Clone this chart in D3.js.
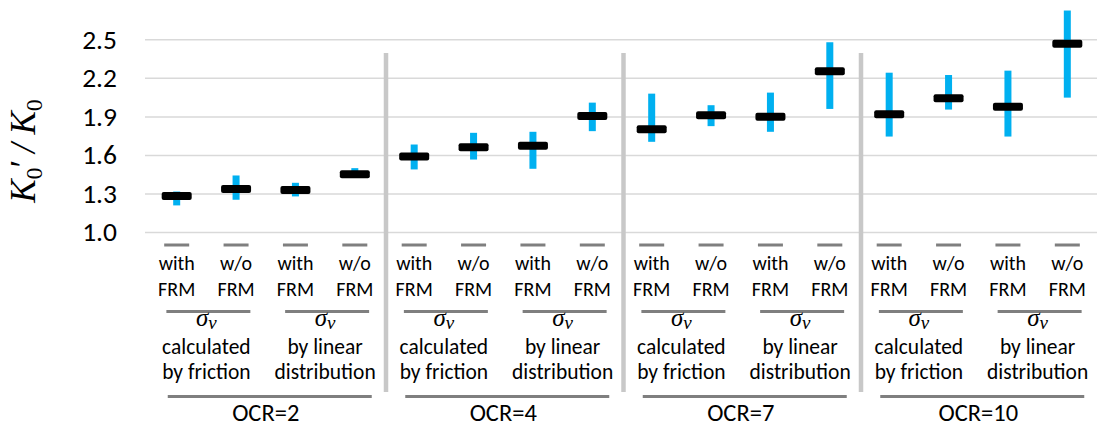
<!DOCTYPE html>
<html>
<head>
<meta charset="utf-8">
<script src="https://cdn.jsdelivr.net/npm/d3@7"></script>
<style>
    body { margin: 0; background: #fff; }
    svg text { font-family: Calibri, Carlito, Lato, sans-serif; fill: #000; }
    .serif { font-family: 'Liberation Serif', 'DejaVu Serif', serif !important; }
</style>
</head>
<body>
<div id="chart"></div>
<script>
// groups / sub-groups / bars
const ocrLabels = ['OCR=2', 'OCR=4', 'OCR=7', 'OCR=10'];
const methodLabels = [['calculated', 'by friction'], ['by linear', 'distribution']];
const frmLabels = [['with', 'FRM'], ['w/o', 'FRM']];
const yTicks = [1.0, 1.3, 1.6, 1.9, 2.2, 2.5];

// K0'/K0 mean and range, one per bar (OCR -> method -> FRM)
const meanValues = [1.280, 1.335, 1.327, 1.449, 1.588, 1.659, 1.671, 1.902, 1.799, 1.909, 1.898, 2.251, 1.916, 2.041, 1.975, 2.466];
const lowValues  = [1.207, 1.251, 1.277, 1.440, 1.487, 1.564, 1.492, 1.785, 1.702, 1.824, 1.780, 1.958, 1.743, 1.953, 1.743, 2.046];
const highValues = [1.315, 1.440, 1.383, 1.497, 1.681, 1.772, 1.780, 2.007, 2.077, 1.987, 2.085, 2.477, 2.240, 2.222, 2.256, 2.724];

class RangeChart {
    constructor(_config, _data) {
        this.config = {
            parentElement: _config.parentElement,
            containerWidth: _config.containerWidth || 1097,
            containerHeight: _config.containerHeight || 428,
            margin: _config.margin || { top: 39.3, right: 0, bottom: 196, left: 147 }
        };
        this.data = _data;
        this.initVis();
    }

    initVis() {
        let vis = this;

        vis.width = vis.config.containerWidth - vis.config.margin.left - vis.config.margin.right;
        vis.height = vis.config.containerHeight - vis.config.margin.top - vis.config.margin.bottom;

        vis.svg = d3.select(vis.config.parentElement)
            .append('svg')
            .attr('width', vis.config.containerWidth)
            .attr('height', vis.config.containerHeight);

        vis.chart = vis.svg.append('g')
            .attr('transform', `translate(${vis.config.margin.left},${vis.config.margin.top})`);

        vis.xScale = d3.scaleBand()
            .domain(vis.data.map(d => d.idx))
            .range([0, vis.width]);

        vis.yScale = d3.scaleLinear()
            .domain([1.0, 2.5])
            .range([vis.height, 0]);

        // gridlines
        vis.gridG = vis.chart.append('g')
            .attr('class', 'grid')
            .attr('transform', 'translate(-2,0)')
            .call(d3.axisRight(vis.yScale).tickValues(yTicks).tickSize(vis.width + 2).tickFormat(''));
        vis.gridG.select('.domain').remove();
        vis.gridG.selectAll('line').attr('stroke', '#d9d9d9').attr('stroke-width', 1.5);

        // tick labels
        vis.yAxisG = vis.chart.append('g')
            .attr('class', 'axis y-axis')
            .attr('transform', 'translate(-30,0)')
            .call(d3.axisLeft(vis.yScale).tickValues(yTicks).tickSize(0).tickPadding(0).tickFormat(d3.format('.1f')));
        vis.yAxisG.select('.domain').remove();
        vis.yAxisG.selectAll('text').style('font-size', '27.5px');

        // axis title  K0' / K0
        const title = vis.svg.append('text')
            .attr('class', 'serif')
            .attr('transform', 'translate(35,151) rotate(-90)')
            .style('text-anchor', 'middle')
            .style('font-size', '35px')
            .style('font-style', 'italic');
        title.append('tspan').text('K');
        title.append('tspan').attr('dy', 7).style('font-size', '24px').style('font-style', 'normal').text('0');
        title.append('tspan').attr('dy', -7).attr('dx', -2).text('\u2032 / K');
        title.append('tspan').attr('dy', 7).style('font-size', '24px').style('font-style', 'normal').text('0');

        vis.renderVis();
    }

    renderVis() {
        let vis = this;
        const bw = vis.xScale.bandwidth();
        const cx = d => vis.xScale(d.idx) + bw / 2;
        const base = vis.yScale(1.0);

        // group separators
        vis.chart.selectAll('.separator')
            .data([4, 8, 12])
            .join('line')
            .attr('class', 'separator')
            .attr('x1', d => vis.xScale(d) + 1.5)
            .attr('x2', d => vis.xScale(d) + 1.5)
            .attr('y1', 13.7)
            .attr('y2', base + 160)
            .attr('stroke', '#c8c8c8')
            .attr('stroke-width', 4.5);

        // range bars
        vis.chart.selectAll('.range')
            .data(vis.data)
            .join('rect')
            .attr('class', 'range')
            .attr('x', d => cx(d) - 3.5)
            .attr('width', 7)
            .attr('y', d => vis.yScale(d.high))
            .attr('height', d => vis.yScale(d.low) - vis.yScale(d.high))
            .attr('fill', '#00b0f0');

        // mean marks
        vis.chart.selectAll('.mean')
            .data(vis.data)
            .join('rect')
            .attr('class', 'mean')
            .attr('x', d => cx(d) - 15)
            .attr('width', 30)
            .attr('y', d => vis.yScale(d.mean) - 4)
            .attr('height', 8)
            .attr('rx', 2)
            .attr('fill', '#000');

        // little dashes under each bar
        vis.chart.selectAll('.dash')
            .data(vis.data)
            .join('line')
            .attr('class', 'dash')
            .attr('x1', d => cx(d) - 12.5)
            .attr('x2', d => cx(d) + 12.5)
            .attr('y1', base + 13)
            .attr('y2', base + 13)
            .attr('stroke', '#7f7f7f')
            .attr('stroke-width', 3);

        // with / w/o FRM labels
        const frmText = vis.chart.selectAll('.frm-label')
            .data(vis.data)
            .join('text')
            .attr('class', 'frm-label')
            .attr('text-anchor', 'middle')
            .style('font-size', '20px');
        frmText.append('tspan').attr('x', d => cx(d)).attr('y', base + 38).text(d => d.frm[0]);
        frmText.append('tspan').attr('x', d => cx(d)).attr('y', base + 64).text(d => d.frm[1]);

        // method sub-groups (pairs of bars)
        const pairs = d3.groups(vis.data, d => d.pair).map(([key, arr]) => ({
            key,
            label: arr[0].method,
            center: (cx(arr[0]) + cx(arr[arr.length - 1])) / 2
        }));

        vis.chart.selectAll('.pair-line')
            .data(pairs)
            .join('line')
            .attr('class', 'pair-line')
            .attr('x1', d => d.center + 2 - 42)
            .attr('x2', d => d.center + 2 + 42)
            .attr('y1', base + 79.5)
            .attr('y2', base + 79.5)
            .attr('stroke', '#7f7f7f')
            .attr('stroke-width', 3);

        const sigma = vis.chart.selectAll('.sigma')
            .data(pairs)
            .join('text')
            .attr('class', 'sigma serif')
            .attr('x', d => d.center)
            .attr('y', base + 94)
            .attr('text-anchor', 'middle')
            .style('font-style', 'italic')
            .style('font-size', '25px');
        sigma.append('tspan').text('\u03C3');
        sigma.append('tspan').attr('dy', 3).style('font-size', '19px').text('v');

        const methodText = vis.chart.selectAll('.method-label')
            .data(pairs)
            .join('text')
            .attr('class', 'method-label')
            .attr('text-anchor', 'middle')
            .style('font-size', '21.5px');
        methodText.append('tspan').attr('x', d => d.center).attr('y', base + 122).text(d => d.label[0]);
        methodText.append('tspan').attr('x', d => d.center).attr('y', base + 147).text(d => d.label[1]);

        // OCR groups
        const groups = d3.groups(vis.data, d => d.ocr).map(([key, arr]) => ({
            key,
            center: (cx(arr[0]) + cx(arr[arr.length - 1])) / 2
        }));

        vis.chart.selectAll('.group-line')
            .data(groups)
            .join('line')
            .attr('class', 'group-line')
            .attr('x1', d => d.center + 4 - 102)
            .attr('x2', d => d.center + 4 + 102)
            .attr('y1', base + 164.5)
            .attr('y2', base + 164.5)
            .attr('stroke', '#7f7f7f')
            .attr('stroke-width', 3);

        vis.chart.selectAll('.group-label')
            .data(groups)
            .join('text')
            .attr('class', 'group-label')
            .attr('x', d => d.center)
            .attr('y', base + 189)
            .attr('text-anchor', 'middle')
            .style('font-size', '24.5px')
            .text(d => d.key);
    }
}

const data = [];
ocrLabels.forEach((ocr, gi) => {
    methodLabels.forEach((method, mi) => {
        frmLabels.forEach((frm, fi) => {
            const idx = gi * 4 + mi * 2 + fi;
            data.push({
                idx, ocr, method, frm,
                pair: `${ocr}-${mi}`,
                mean: meanValues[idx],
                low: lowValues[idx],
                high: highValues[idx]
            });
        });
    });
});

new RangeChart({ parentElement: '#chart' }, data);
</script>
</body>
</html>
